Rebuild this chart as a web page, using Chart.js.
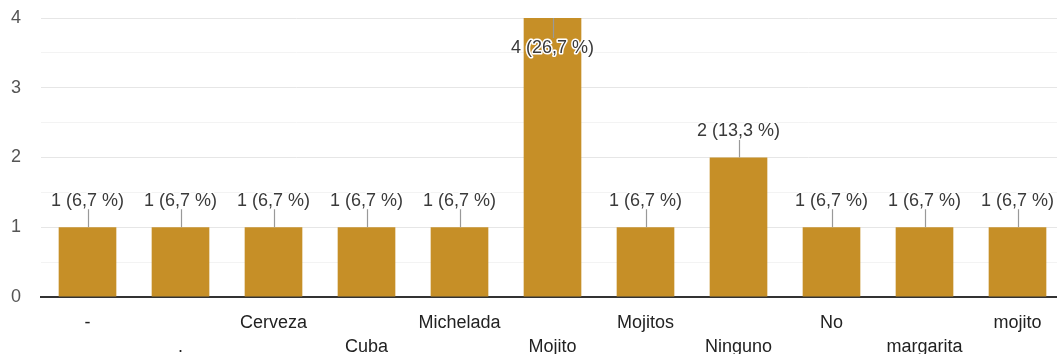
<!DOCTYPE html>
<html>
<head>
<meta charset="utf-8">
<script src="https://cdn.jsdelivr.net/npm/chart.js@4"></script>
<style>
  html, body { margin: 0; padding: 0; background: #fff; overflow: hidden; }
  #wrap { width: 1064px; height: 354px; }
</style>
</head>
<body>
<div id="wrap"><canvas id="chart"></canvas></div>
<script>
// Chart data
const categories = ['-', '.', 'Cerveza', 'Cuba', 'Michelada', 'Mojito', 'Mojitos', 'Ninguno', 'No', 'margarita', 'mojito'];
const counts = [1, 1, 1, 1, 1, 4, 1, 2, 1, 1, 1];
const yTicks = [0, 1, 2, 3, 4];

const BAR_COLOR = '#c68f27';
const FONT = '"Liberation Sans", Arial, sans-serif';

const total = counts.reduce((a, b) => a + b, 0);

// staggered labels: odd ones go on the second line
const xLabels = categories.map((c, i) => i % 2 === 0 ? [c, ''] : ['', c]);

// value labels with a little leader line above each bar
const valueLabels = {
    id: 'valueLabels',
    afterDatasetsDraw(chart) {
        const ctx = chart.ctx;
        const area = chart.chartArea;
        const meta = chart.getDatasetMeta(0);
        ctx.save();
        ctx.font = '18px ' + FONT;
        ctx.textAlign = 'center';
        ctx.textBaseline = 'middle';
        meta.data.forEach((bar, i) => {
            const pct = (counts[i] / total * 100).toFixed(1).replace('.', ',');
            const text = `${counts[i]} (${pct} %)`;
            const top = bar.y;
            let textY, lineA, lineB;
            if (top - 38 < area.top) {
                textY = top + 30; lineA = top; lineB = top + 20;
            } else {
                textY = top - 26; lineA = top - 18; lineB = top;
            }
            ctx.strokeStyle = '#999999';
            ctx.lineWidth = 1.2;
            ctx.beginPath();
            ctx.moveTo(Math.round(bar.x) + 0.5, lineA);
            ctx.lineTo(Math.round(bar.x) + 0.5, lineB);
            ctx.stroke();
            ctx.lineWidth = 3;
            ctx.lineJoin = 'round';
            ctx.strokeStyle = '#ffffff';
            ctx.strokeText(text, bar.x, textY);
            ctx.fillStyle = '#3a3a3a';
            ctx.fillText(text, bar.x, textY);
        });
        ctx.restore();
    }
};

new Chart(document.getElementById('chart'), {
    type: 'bar',
    data: {
        labels: xLabels,
        datasets: [{
            data: counts,
            backgroundColor: BAR_COLOR,
            categoryPercentage: 1,
            barPercentage: 0.62
        }]
    },
    options: {
        responsive: true,
        maintainAspectRatio: false,
        animation: false,
        layout: { padding: { top: 18, left: 0, right: 0, bottom: 0 } },
        plugins: {
            legend: { display: false },
            tooltip: { enabled: false }
        },
        scales: {
            x: {
                grid: { display: false, drawTicks: false },
                border: { color: '#333333', width: 2 },
                ticks: {
                    autoSkip: false,
                    maxRotation: 0,
                    padding: 14,
                    color: '#222222',
                    font: { family: FONT, size: 18, lineHeight: 1.33 }
                },
                afterFit(scale) { scale.height = 57; }
            },
            y: {
                min: 0,
                max: 4,
                grid: {
                    drawTicks: false,
                    color: (c) => Number.isInteger(c.tick.value) ? '#e6e6e6' : '#f3f3f3'
                },
                border: { display: false },
                ticks: {
                    stepSize: 0.5,
                    padding: 20,
                    color: '#555555',
                    font: { family: FONT, size: 18 },
                    callback: (v) => yTicks.includes(v) ? String(v) : ''
                },
                afterFit(scale) {
                    scale.width = 41;
                    scale.paddingTop = 0;
                    scale.paddingBottom = 0;
                }
            }
        }
    },
    plugins: [valueLabels]
});
</script>
</body>
</html>
